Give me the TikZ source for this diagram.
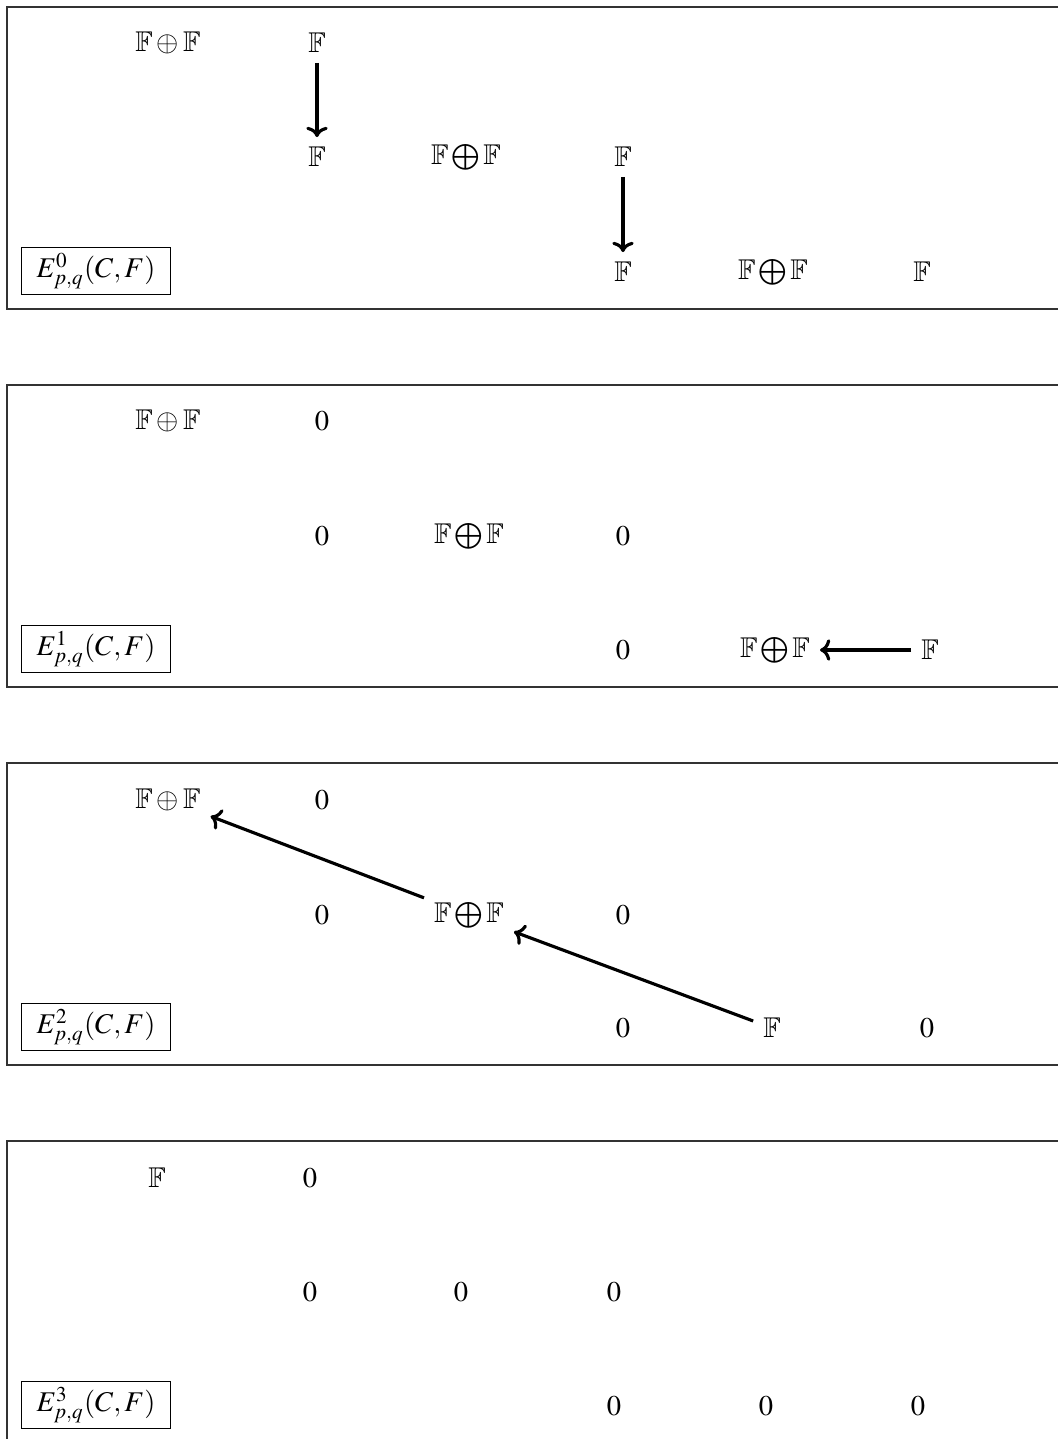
\documentclass[tikz,border=0pt]{standalone}
\usepackage{mathptmx}
\usepackage{amssymb}
\usetikzlibrary{arrows.meta}
\begin{document}
\begin{tikzpicture}[x=0.35pt,y=-0.35pt,
  frame/.style={draw=black!80, line width=0.5pt},
  lbl/.style={draw, line width=0.4pt, minimum width=52pt, minimum height=16pt, inner sep=2pt},
  arr/.style={-{To[width=7.5pt,length=3.6pt]}, line width=1.1pt},
]
\useasboundingbox (0,0) rectangle (1058,1439);
% ---------- panel E^0
\draw[frame] (1058,7) -- (7,7) -- (7,309) -- (1058,309);
\node[lbl] (l0) at (96,271) {$E^0_{p,q}(C,F)$};
\node (a00) at (168,43) {$\mathbb{F}\oplus\mathbb{F}$};
\node (a01) at (317,43) {$\mathbb{F}$};
\node (a11) at (317,157) {$\mathbb{F}$};
\node (a12) at (466,157) {$\mathbb{F}\bigoplus\mathbb{F}$};
\node (a13) at (623,157) {$\mathbb{F}$};
\node (a23) at (623,272) {$\mathbb{F}$};
\node (a24) at (773,272) {$\mathbb{F}\bigoplus\mathbb{F}$};
\node (a25) at (922,272) {$\mathbb{F}$};
\draw[arr] (a01) -- (a11);
\draw[arr] (a13) -- (a23);
% ---------- panel E^1
\draw[frame] (1058,385) -- (7,385) -- (7,687) -- (1058,687);
\node[lbl] (l1) at (96,649) {$E^1_{p,q}(C,F)$};
\node (b00) at (168,421) {$\mathbb{F}\oplus\mathbb{F}$};
\node (b01) at (322,421) {$0$};
\node (b11) at (322,536) {$0$};
\node (b12) at (469,536) {$\mathbb{F}\bigoplus\mathbb{F}$};
\node (b13) at (623,536) {$0$};
\node (b23) at (623,650) {$0$};
\node (b24) at (775,650) {$\mathbb{F}\bigoplus\mathbb{F}$};
\node (b25) at (930,650) {$\mathbb{F}$};
\draw[arr] (b25) -- (b24);
% ---------- panel E^2
\draw[frame] (1058,763) -- (7,763) -- (7,1065) -- (1058,1065);
\node[lbl] (l2) at (96,1027) {$E^2_{p,q}(C,F)$};
\node (c00) at (168,800) {$\mathbb{F}\oplus\mathbb{F}$};
\node (c01) at (322,800) {$0$};
\node (c11) at (322,915) {$0$};
\node (c12) at (469,915) {$\mathbb{F}\bigoplus\mathbb{F}$};
\node (c13) at (623,915) {$0$};
\node (c23) at (623,1028) {$0$};
\node (c24) at (772,1028) {$\mathbb{F}$};
\node (c25) at (927,1028) {$0$};
\draw[arr] (c24) -- (c12);
\draw[arr] (c12) -- (c00);
% ---------- panel E^3
\draw[frame] (1058,1141) -- (7,1141) -- (7,1439);
\node[lbl] (l3) at (96,1405) {$E^3_{p,q}(C,F)$};
\node (d00) at (157,1178) {$\mathbb{F}$};
\node (d01) at (310,1178) {$0$};
\node (d11) at (310,1292) {$0$};
\node (d12) at (461,1292) {$0$};
\node (d13) at (614,1292) {$0$};
\node (d23) at (614,1406) {$0$};
\node (d24) at (766,1406) {$0$};
\node (d25) at (918,1406) {$0$};
\end{tikzpicture}
\end{document}
